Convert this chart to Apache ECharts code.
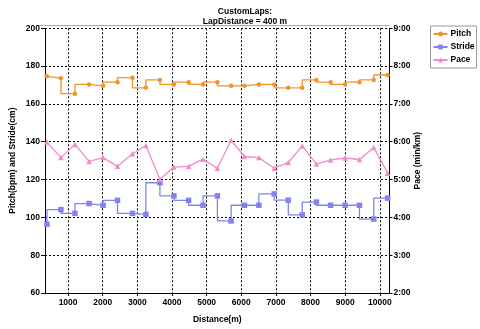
<!DOCTYPE html>
<html>
<head>
<meta charset="utf-8">
<style>html,body{margin:0;padding:0;background:#fff;}#c{width:480px;height:329px;}</style>
<script src="https://cdn.jsdelivr.net/npm/echarts@6/dist/echarts.min.js"></script>
</head>
<body>
<div id="c"></div>
<script>
const distance = [389, 793, 1198, 1605, 2010, 2426, 2859, 3246, 3651, 4055, 4480, 4895, 5311, 5707, 6092, 6508, 6952, 7357, 7761, 8168, 8581, 8997, 9413, 9826, 10226];
const pitch = [174.6, 173.6, 165.4, 170.3, 169.6, 171.5, 173.9, 168.5, 172.7, 170.3, 171.5, 170.3, 171.5, 169.6, 169.6, 170.3, 170.3, 168.5, 168.5, 172.7, 171.5, 170.3, 171.5, 172.7, 175.3];
const stride = [96.4, 104.1, 102.1, 107.3, 106.4, 109.0, 102.1, 101.6, 118.3, 111.4, 109.0, 106.4, 111.4, 98.1, 106.4, 106.4, 112.4, 109.1, 101.3, 108.1, 106.4, 106.4, 106.4, 99.1, 110.2];
const pace = [5.99, 5.58, 5.93, 5.48, 5.58, 5.35, 5.68, 5.90, 5.01, 5.33, 5.35, 5.54, 5.30, 6.04, 5.61, 5.58, 5.30, 5.45, 5.89, 5.41, 5.52, 5.57, 5.53, 5.85, 5.17];
const xTicks = [1000, 2000, 3000, 4000, 5000, 6000, 7000, 8000, 9000, 10000];

const FONT = 'Liberation Sans, Arial, sans-serif';
const FS = 8.5;
const cPitch = '#f5922a', cStride = '#8383ee', cPace = '#f08cc8';
const chart = echarts.init(document.getElementById('c'));
const pair = arr => distance.map((d, i) => [d, arr[i]]);
const L = 37.7, R = 389.5, T = 28.3, B = 298.5;

chart.setOption({
  animation: false,
  textStyle: {fontFamily: FONT},
  title: {
    text: 'CustomLaps:\nLapDistance = 400 m',
    left: 240, top: 1, textAlign: 'center',
    textStyle: {fontSize: FS, fontWeight: 'bold', color: '#000', lineHeight: 10.5, fontFamily: FONT}
  },
  legend: {
    orient: 'vertical', left: 430.5, top: 26,
    padding: [3, 2, 3, 2], itemGap: 3, itemWidth: 14, itemHeight: 6,
    borderColor: '#999', borderWidth: 1,
    textStyle: {fontSize: FS, fontWeight: 'bold', color: '#000', fontFamily: FONT, lineHeight: 10, padding: [0, 0, 0, -2]},
    data: ['Pitch', 'Stride', 'Pace']
  },
  grid: {left: L, right: 480 - R, top: T, bottom: 329 - B, containLabel: false},
  graphic: [{
    type: 'line', shape: {x1: L, y1: 25.5, x2: R, y2: 25.5},
    style: {stroke: '#aaa', lineWidth: 1}, silent: true
  }],
  xAxis: {
    type: 'value', min: 333, max: 10280,
    name: 'Distance(m)', nameLocation: 'middle', nameGap: 22, nameMoveOverlap: false,
    nameTextStyle: {fontSize: FS, fontWeight: 'bold', color: '#000', fontFamily: FONT},
    axisLine: {show: true, lineStyle: {color: '#000', width: 1}},
    axisTick: {show: true, length: 3, customValues: xTicks, lineStyle: {color: '#000'}},
    axisLabel: {customValues: xTicks, fontSize: FS, fontWeight: 'bold', color: '#000', margin: 5, fontFamily: FONT,
      formatter: v => String(Math.round(v))},
    splitLine: {show: true, lineStyle: {color: '#000', type: [2, 2], width: 1}}
  },
  yAxis: [{
    type: 'value', min: 60, max: 200, interval: 20, position: 'left',
    name: 'Pitch(bpm) and Stride(cm)', nameLocation: 'middle', nameGap: 28, nameMoveOverlap: false,
    nameTextStyle: {fontSize: FS, fontWeight: 'bold', color: '#000', fontFamily: FONT},
    axisLine: {show: true, lineStyle: {color: '#000', width: 1}},
    axisTick: {show: true, length: 4, lineStyle: {color: '#000'}},
    axisLabel: {fontSize: FS, fontWeight: 'bold', color: '#000', margin: 5, fontFamily: FONT},
    splitLine: {show: true, lineStyle: {color: '#000', type: [2, 2], width: 1}}
  }, {
    type: 'value', min: 2, max: 9, interval: 1, position: 'right',
    name: 'Pace (min/km)', nameLocation: 'middle', nameGap: 24, nameMoveOverlap: false,
    nameTextStyle: {fontSize: FS, fontWeight: 'bold', color: '#000', fontFamily: FONT},
    axisLine: {show: true, lineStyle: {color: '#000', width: 1}},
    axisTick: {show: true, length: 3, lineStyle: {color: '#000'}},
    axisLabel: {fontSize: FS, fontWeight: 'bold', color: '#000', margin: 4, fontFamily: FONT,
      formatter: v => Math.round(v) + ':00'},
    splitLine: {show: false}
  }],
  series: [{
    name: 'Pitch', type: 'line', step: 'start', data: pair(pitch),
    symbol: 'circle', symbolSize: 4.5,
    lineStyle: {color: cPitch, width: 1.3}, itemStyle: {color: cPitch}
  }, {
    name: 'Stride', type: 'line', step: 'start', data: pair(stride),
    symbol: 'rect', symbolSize: 5.5,
    lineStyle: {color: cStride, width: 1.3}, itemStyle: {color: cStride}
  }, {
    name: 'Pace', type: 'line', yAxisIndex: 1, data: pair(pace),
    symbol: 'triangle', symbolSize: 5.5,
    lineStyle: {color: cPace, width: 1.3}, itemStyle: {color: cPace}
  }]
});
</script>
</body>
</html>
